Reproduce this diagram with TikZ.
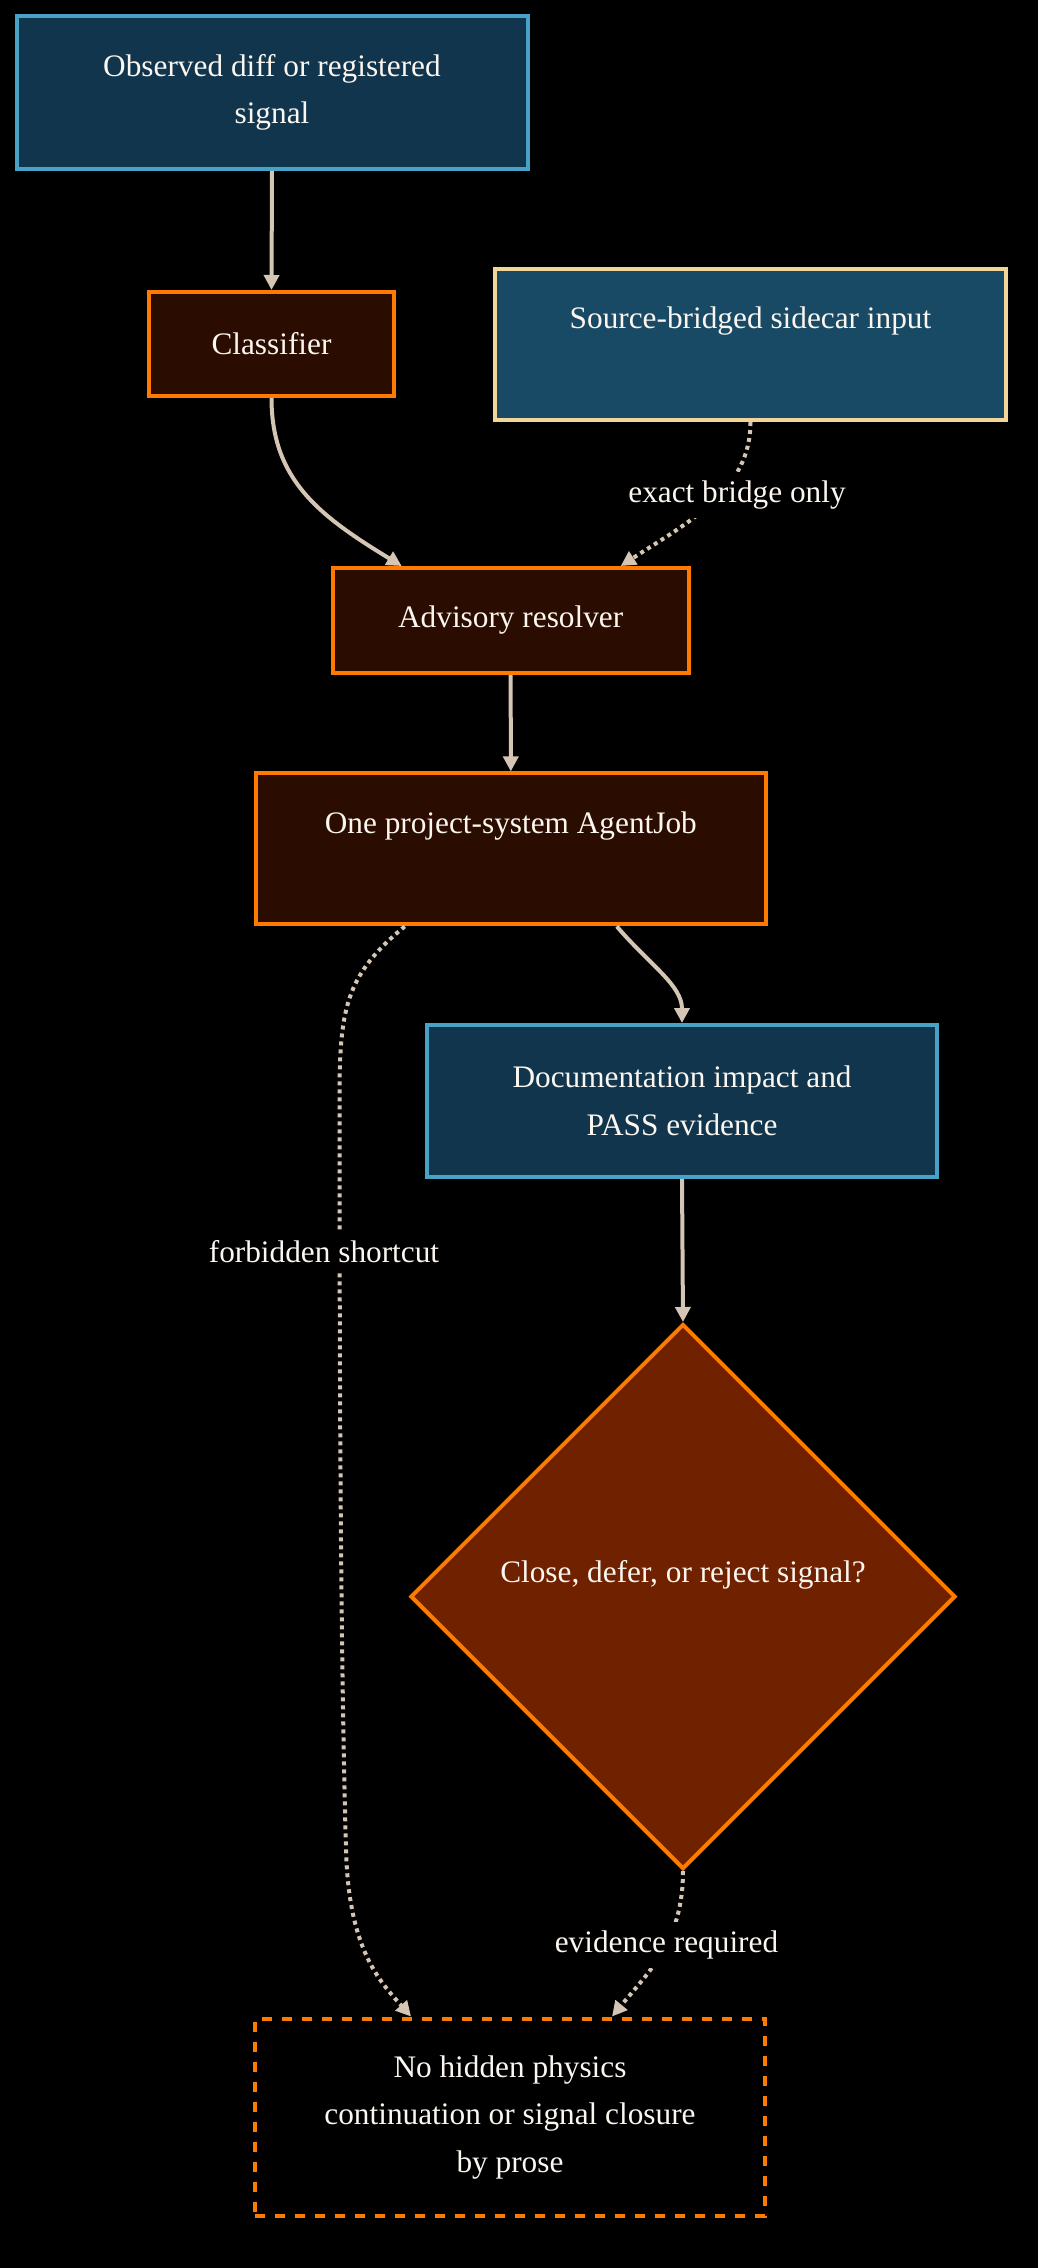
\documentclass[tikz,border=0pt]{standalone}
\usepackage{fontspec}
\setmainfont{Liberation Serif}
\usetikzlibrary{arrows.meta,shapes.geometric}
\definecolor{bluefill}{HTML}{12354E}
\definecolor{blueedge}{HTML}{48A2C6}
\definecolor{srcfill}{HTML}{184A65}
\definecolor{srcedge}{HTML}{F1D59B}
\definecolor{brownfill}{HTML}{2B0C00}
\definecolor{orangeedge}{HTML}{FF7B00}
\definecolor{decfill}{HTML}{6F2100}
\definecolor{edgec}{HTML}{D5C5B5}
\definecolor{txt}{HTML}{FBF6EF}
\begin{document}
\begin{tikzpicture}[x=1pt,y=-1pt,
  every node/.style={text=txt, font=\fontsize{31.3}{47.5}\selectfont, inner sep=0pt, align=center},
  bluebox/.style={draw=blueedge, fill=bluefill, line width=4pt},
  srcbox/.style={draw=srcedge, fill=srcfill, line width=4pt},
  brownbox/.style={draw=orangeedge, fill=brownfill, line width=4pt},
  decbox/.style={diamond, aspect=1, draw=orangeedge, fill=decfill, line width=4pt},
  endbox/.style={draw=orangeedge, line width=4pt, dash pattern=on 10pt off 10pt},
  conn/.style={draw=edgec, line width=4pt, -{Triangle[length=15pt,width=15pt]}},
  dotconn/.style={conn, dash pattern=on 4pt off 4pt},
  lbl/.style={fill=black, inner xsep=3pt, inner ysep=9pt}
]
\fill[black] (0,0) rectangle (1038,2268);
\useasboundingbox (0,0) rectangle (1038,2268);

% nodes
\node[bluebox, minimum width=511pt, minimum height=153pt] (obs) at (272,92.4)
  {Observed diff or registered\\signal};
\node[brownbox, minimum width=245pt, minimum height=104pt] (cls) at (271.5,344) {Classifier};
\node[srcbox, minimum width=511pt, minimum height=151pt] (src) at (750.5,344.5)
  {\raisebox{23pt}[\height][\depth]{Source-bridged sidecar input}};
\node[brownbox, minimum width=356pt, minimum height=105pt] (adv) at (510.7,620.5) {Advisory resolver};
\node[brownbox, minimum width=510pt, minimum height=151pt] (job) at (510.8,848.9)
  {\raisebox{23pt}[\height][\depth]{One project-system AgentJob}};
\node[bluebox, minimum width=510pt, minimum height=152pt] (doc) at (682,1101)
  {Documentation impact and\\PASS evidence};
\node[decbox, minimum width=545pt, minimum height=545pt] (dec) at (683,1596.5)
  {\raisebox{22pt}[\height][\depth]{Close, defer, or reject signal?}};
\node[endbox, minimum width=510pt, minimum height=197pt] (bot) at (510,2117)
  {No hidden physics\\continuation or signal closure\\by prose};

% helper coordinates for the long shortcut edge
\coordinate (fsA) at (339.5,1100);
\coordinate (fsB) at (346,1850);

% connectors
\draw[conn] (obs.south) -- (cls.north);
\draw[conn] (cls.south) .. controls +(0,82) and +(-82,-50) .. ([xshift=-109pt]adv.north);
\draw[dotconn] (src.south) .. controls +(0,68) and +(69.5,-45) .. ([xshift=110pt]adv.north);
\draw[conn] (adv.south) -- (job.north);
\draw[conn] ([xshift=106pt]job.south) .. controls +(33,38.6) and +(0,-38) .. (doc.north);
\draw[conn] (doc.south) -- (dec.north);
\draw[dotconn] ([xshift=-106pt]job.south) .. controls +(-60,49) and +(0,-90) .. (fsA)
  .. controls +(0,400) and +(-4,-150) .. (fsB)
  .. controls +(2.7,100) and +(-31,-35) .. ([xshift=-99pt]bot.north);
\draw[dotconn] (dec.south) .. controls +(0,69) and +(38,-46) .. ([xshift=102pt]bot.north);

% edge labels
\node[lbl] (l1) at (737,495) {exact bridge only};
\node[lbl] (l2) at (324,1252) {forbidden shortcut};
\node[lbl] (l3) at (666.5,1945) {evidence required};
\end{tikzpicture}
\end{document}
